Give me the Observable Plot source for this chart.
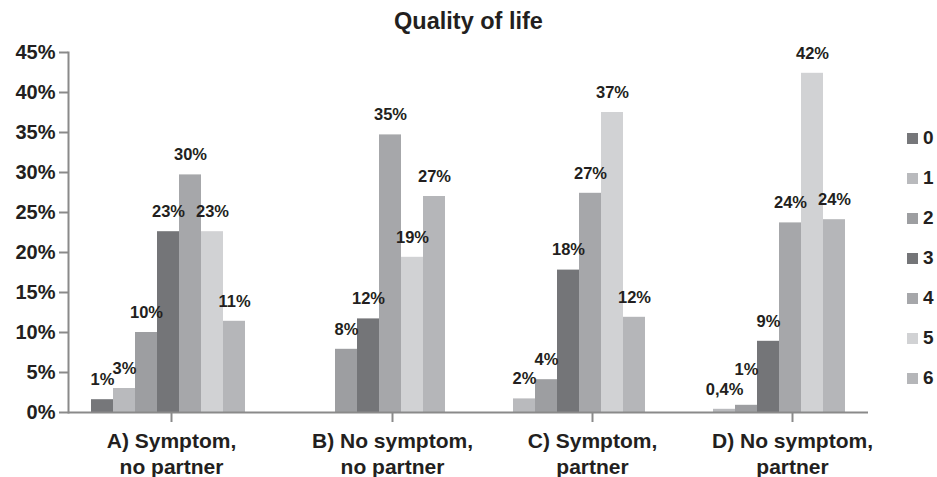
<!DOCTYPE html>
<html>
<head>
<meta charset="utf-8">
<script src="https://cdn.jsdelivr.net/npm/d3@7"></script>
<script src="https://cdn.jsdelivr.net/npm/@observablehq/plot@0.6"></script>
<style>
  body { margin: 0; background: #fff; font-family: "Liberation Sans", Arial, sans-serif; color: #231f20; }
  #wrap { position: relative; width: 937px; height: 477px; overflow: hidden; }
  #title { height: 40px; line-height: 42px; text-align: center; font-weight: bold; font-size: 23.5px; }
  #legend { position: absolute; left: 907px; top: 118px; }
  .row { height: 40px; display: flex; align-items: center; font-weight: bold; font-size: 19px; }
  .sw { width: 11px; height: 11px; margin-right: 5px; }
</style>
</head>
<body>
<div id="wrap">
  <div id="title">Quality of life</div>
  <div id="chart"></div>
  <div id="legend"></div>
</div>
<script>
const groups = [
  "A) Symptom,\nno partner",
  "B) No symptom,\nno partner",
  "C) Symptom,\npartner",
  "D) No symptom,\npartner"
];
const categories = ["0", "1", "2", "3", "4", "5", "6"];
const valuesA = [1.6, 3.0, 10.0, 22.6, 29.7, 22.6, 11.4];
const valuesB = [null, null, 7.9, 11.7, 34.7, 19.4, 27.0];
const valuesC = [null, 1.7, 4.1, 17.8, 27.4, 37.5, 11.9];
const valuesD = [null, 0.4, 0.9, 8.9, 23.7, 42.4, 24.1];
const labelsA = ["1%", "3%", "10%", "23%", "30%", "23%", "11%"];
const labelsB = [null, null, "8%", "12%", "35%", "19%", "27%"];
const labelsC = [null, "2%", "4%", "18%", "27%", "37%", "12%"];
const labelsD = [null, "0,4%", "1%", "9%", "24%", "42%", "24%"];
const colors = ["#76777a", "#b9babd", "#9d9ea1", "#747578", "#a6a7aa", "#d1d2d4", "#b5b6b9"];
const yTicks = [0, 5, 10, 15, 20, 25, 30, 35, 40, 45];

const seriesValues = [valuesA, valuesB, valuesC, valuesD];
const seriesLabels = [labelsA, labelsB, labelsC, labelsD];
const rows = [];
groups.forEach((g, gi) => {
  categories.forEach((c, ci) => {
    const v = seriesValues[gi][ci];
    if (v != null) rows.push({group: g, cat: c, value: v, label: seriesLabels[gi][ci]});
  });
});
// the "1%" label in group D is lifted to clear the "0,4%" label
const isLifted = d => d.group === groups[3] && d.cat === "2";

const axisGrey = "#8a8a8a";
const ink = "#231f20";

const chart = Plot.plot({
  width: 937,
  height: 437,
  marginLeft: 67,
  marginRight: 69,
  marginTop: 12,
  marginBottom: 65,
  style: {fontFamily: "'Liberation Sans', Arial, sans-serif", color: ink, background: "white", overflow: "visible"},
  fx: {domain: groups, padding: 0, label: null},
  x: {domain: categories, paddingInner: 0, paddingOuter: 0.85, axis: null},
  y: {domain: [0, 45], label: null},
  color: {domain: categories, range: colors},
  marks: [
    Plot.barY(rows, {fx: "group", x: "cat", y: "value", fill: "cat"}),
    Plot.text(rows.filter(d => !isLifted(d)), {
      fx: "group", x: "cat", y: "value", text: "label",
      dy: -20, fontSize: 16.5, fontWeight: "bold", fill: ink
    }),
    Plot.text(rows.filter(isLifted), {
      fx: "group", x: "cat", y: "value", text: "label",
      dy: -36, fontSize: 16.5, fontWeight: "bold", fill: ink
    }),
    Plot.ruleY([0], {stroke: axisGrey, strokeWidth: 2}),
    Plot.frame({anchor: "left", facetAnchor: "left", stroke: axisGrey, strokeWidth: 2}),
    Plot.axisY({
      ticks: yTicks, tickFormat: d => d + "%", tickSize: 9, tickPadding: 4,
      fontSize: 20, fontWeight: "bold", stroke: axisGrey, strokeWidth: 2, fill: ink, label: null
    }),
    Plot.axisFx({
      ticks: groups.slice(0, 1), anchor: "bottom", tickSize: 10, tickPadding: 8, dx: 3,
      fontSize: 21, fontWeight: "bold", lineHeight: 1.2, stroke: axisGrey, strokeWidth: 2, fill: ink, label: null
    }),
    Plot.axisFx({
      ticks: groups.slice(1), anchor: "bottom", tickSize: 10, tickPadding: 8, dx: 24,
      fontSize: 21, fontWeight: "bold", lineHeight: 1.2, stroke: axisGrey, strokeWidth: 2, fill: ink, label: null
    })
  ]
});
document.getElementById("chart").append(chart);

const legend = document.getElementById("legend");
categories.forEach((c, i) => {
  const row = document.createElement("div");
  row.className = "row";
  const sw = document.createElement("div");
  sw.className = "sw";
  sw.style.background = colors[i];
  const t = document.createElement("span");
  t.textContent = c;
  row.append(sw, t);
  legend.append(row);
});
</script>
</body>
</html>
